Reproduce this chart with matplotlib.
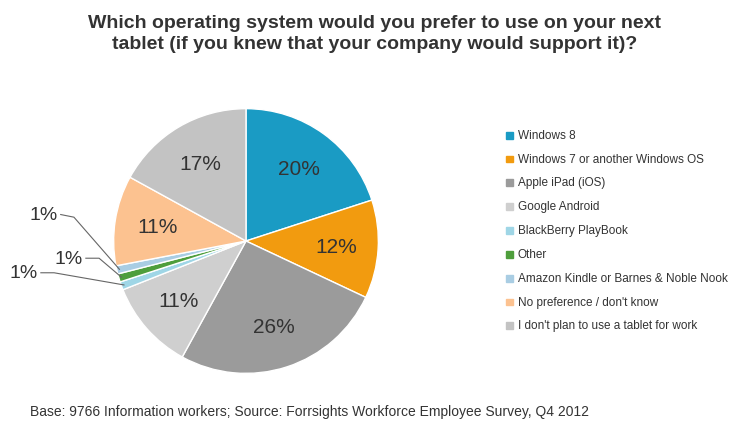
import matplotlib.pyplot as plt
from matplotlib.patches import Rectangle
import numpy as np

plt.rcParams['font.family'] = ['Liberation Sans', 'DejaVu Sans']

labels = ["Windows 8", "Windows 7 or another Windows OS", "Apple iPad (iOS)", "Google Android",
          "BlackBerry PlayBook", "Other", "Amazon Kindle or Barnes & Noble Nook",
          "No preference / don't know", "I don't plan to use a tablet for work"]
values = [20, 12, 26, 11, 1, 1, 1, 11, 17]
colors = ["#1a9bc4", "#f29b0f", "#9b9b9b", "#cfcfcf", "#9fd6e6", "#4e9e3c", "#a9cde3", "#fcc290", "#c3c3c3"]

fig = plt.figure(figsize=(7.5, 4.31), dpi=100)
ax = fig.add_axes([0.148, 0.125, 0.36, 0.627])
wedges, texts = ax.pie(values, colors=colors, startangle=90, counterclock=False,
                       wedgeprops=dict(linewidth=1, edgecolor="white"))
ax.set_aspect("equal")
for w, v in zip(wedges, values):
    ang = np.deg2rad((w.theta1 + w.theta2) / 2)
    if v > 1:
        ax.text(0.68*np.cos(ang), 0.68*np.sin(ang), f"{v}%", ha="center", va="center", fontsize=15, color="#333333")
small = [(6, (-1.42, 0.2)), (5, (-1.23, -0.13)), (4, (-1.57, -0.24))]
for i, (tx, ty) in small:
    w = wedges[i]
    ang = np.deg2rad((w.theta1 + w.theta2) / 2)
    x0, y0 = 0.98*np.cos(ang), 0.98*np.sin(ang)
    ax.plot([tx + 0.02, tx + 0.12, x0], [ty, ty - 0.02 if ty > 0 else ty, y0], color="#666666", lw=0.8, clip_on=False)
    ax.text(tx, ty, "1%", ha="right", va="center", fontsize=14, color="#333333", clip_on=False)
ax.set_xlim(-1.02, 1.02); ax.set_ylim(-1.02, 1.02)

fig.text(0.5, 0.965, "Which operating system would you prefer to use on your next\ntablet (if you knew that your company would support it)?",
         ha="center", va="top", fontsize=14, fontweight="bold", color="#333333", linespacing=1.3)

y = 0.685
for lab, c in zip(labels, colors):
    fig.patches.append(Rectangle((0.675, y - 0.009), 0.009, 0.016, color=c, transform=fig.transFigure))
    fig.text(0.69, y, lab, va="center", fontsize=8.5, color="#333333")
    y -= 0.0553

fig.text(0.04, 0.045, "Base: 9766 Information workers; Source: Forrsights Workforce Employee Survey, Q4 2012",
         fontsize=10, color="#333333", va="center")
fig.savefig("out.png", dpi=100, facecolor="white")
